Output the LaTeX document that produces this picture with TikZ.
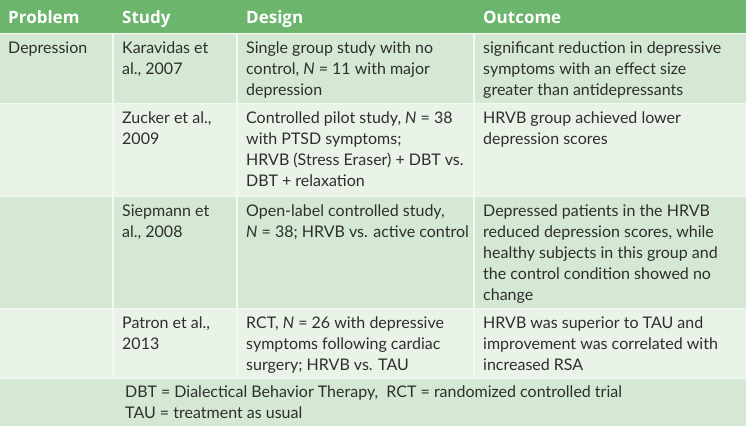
\documentclass[tikz,border=0pt]{standalone}
\usepackage{fontspec}
\setmainfont{Lato}
\newfontfamily\headfont{Open Sans}
\definecolor{hdr}{HTML}{6CB56C}
\definecolor{rowA}{HTML}{D5E8D3}
\definecolor{rowB}{HTML}{EAF3E8}
\definecolor{sepc}{HTML}{F4F8F3}
\definecolor{txt}{HTML}{2E2E2E}
\newcommand\cl[1]{\begin{tabular}[t]{@{}l@{}}#1\end{tabular}}
\tikzset{
  celltext/.style={anchor=base west, inner sep=0pt, text=txt,
    font=\fontsize{16}{21}\selectfont},
  headtext/.style={celltext, text=white, font=\headfont\fontsize{17}{21}\selectfont\bfseries}
}
\begin{document}
\begin{tikzpicture}[x=1pt,y=-1pt]
\useasboundingbox (0,0) rectangle (750,426);
\fill[white] (0,0) rectangle (750,426);
\fill[sepc] (0,0) rectangle (746,426);
% header
\fill[hdr] (0,0) rectangle (746,32.5);
% column cells per row
\foreach \top/\bot/\col in {34/102.5/rowA, 104/195.5/rowB, 197/307.5/rowA, 309/377.5/rowB}{
  \fill[\col] (0,\top) rectangle (112.3,\bot);
  \fill[\col] (113.8,\top) rectangle (236.3,\bot);
  \fill[\col] (237.8,\top) rectangle (473.3,\bot);
  \fill[\col] (474.8,\top) rectangle (746,\bot);
}
\fill[rowA] (0,379) rectangle (746,426);
% header texts
\node[headtext] (hp) at (8,23) {Problem};
\node[headtext] (hs) at (122,23) {Study};
\node[headtext] (hd) at (246,23) {Design};
\node[headtext] (ho) at (483,23) {Outcome};
% row 1
\node[celltext] (p1) at (8,53) {\cl{Depression}};
\node[celltext] (s1) at (122,53) {\cl{Karavidas et\\al., 2007}};
\node[celltext] (d1) at (246,53) {\cl{Single group study with no\\control, \textit{N} = 11 with major\\depression}};
\node[celltext] (o1) at (483,53) {\cl{significant reduction in depressive\\symptoms with an effect size\\greater than antidepressants}};
% row 2
\node[celltext] (s2) at (122,123) {\cl{Zucker et al.,\\2009}};
\node[celltext] (d2) at (246,123) {\cl{Controlled pilot study, \textit{N} = 38\\with PTSD symptoms;\\HRVB (Stress Eraser) + DBT vs.\\DBT + relaxation}};
\node[celltext] (o2) at (483,123) {\cl{HRVB group achieved lower\\depression scores}};
% row 3
\node[celltext] (s3) at (122,216) {\cl{Siepmann et\\al., 2008}};
\node[celltext] (d3) at (246,216) {\cl{Open-label controlled study,\\\textit{N} = 38; HRVB vs. active control}};
\node[celltext] (o3) at (483,216) {\cl{Depressed patients in the HRVB\\reduced depression scores, while\\healthy subjects in this group and\\the control condition showed no\\change}};
% row 4
\node[celltext] (s4) at (122,328) {\cl{Patron et al.,\\2013}};
\node[celltext] (d4) at (246,328) {\cl{RCT, \textit{N} = 26 with depressive\\symptoms following cardiac\\surgery; HRVB vs. TAU}};
\node[celltext] (o4) at (483,328) {\cl{HRVB was superior to TAU and\\improvement was correlated with\\increased RSA}};
% footnote
\node[celltext] (fn) at (125,397) {\cl{DBT = Dialectical Behavior Therapy,\ \ RCT = randomized controlled trial\\TAU = treatment as usual}};
\end{tikzpicture}
\end{document}
